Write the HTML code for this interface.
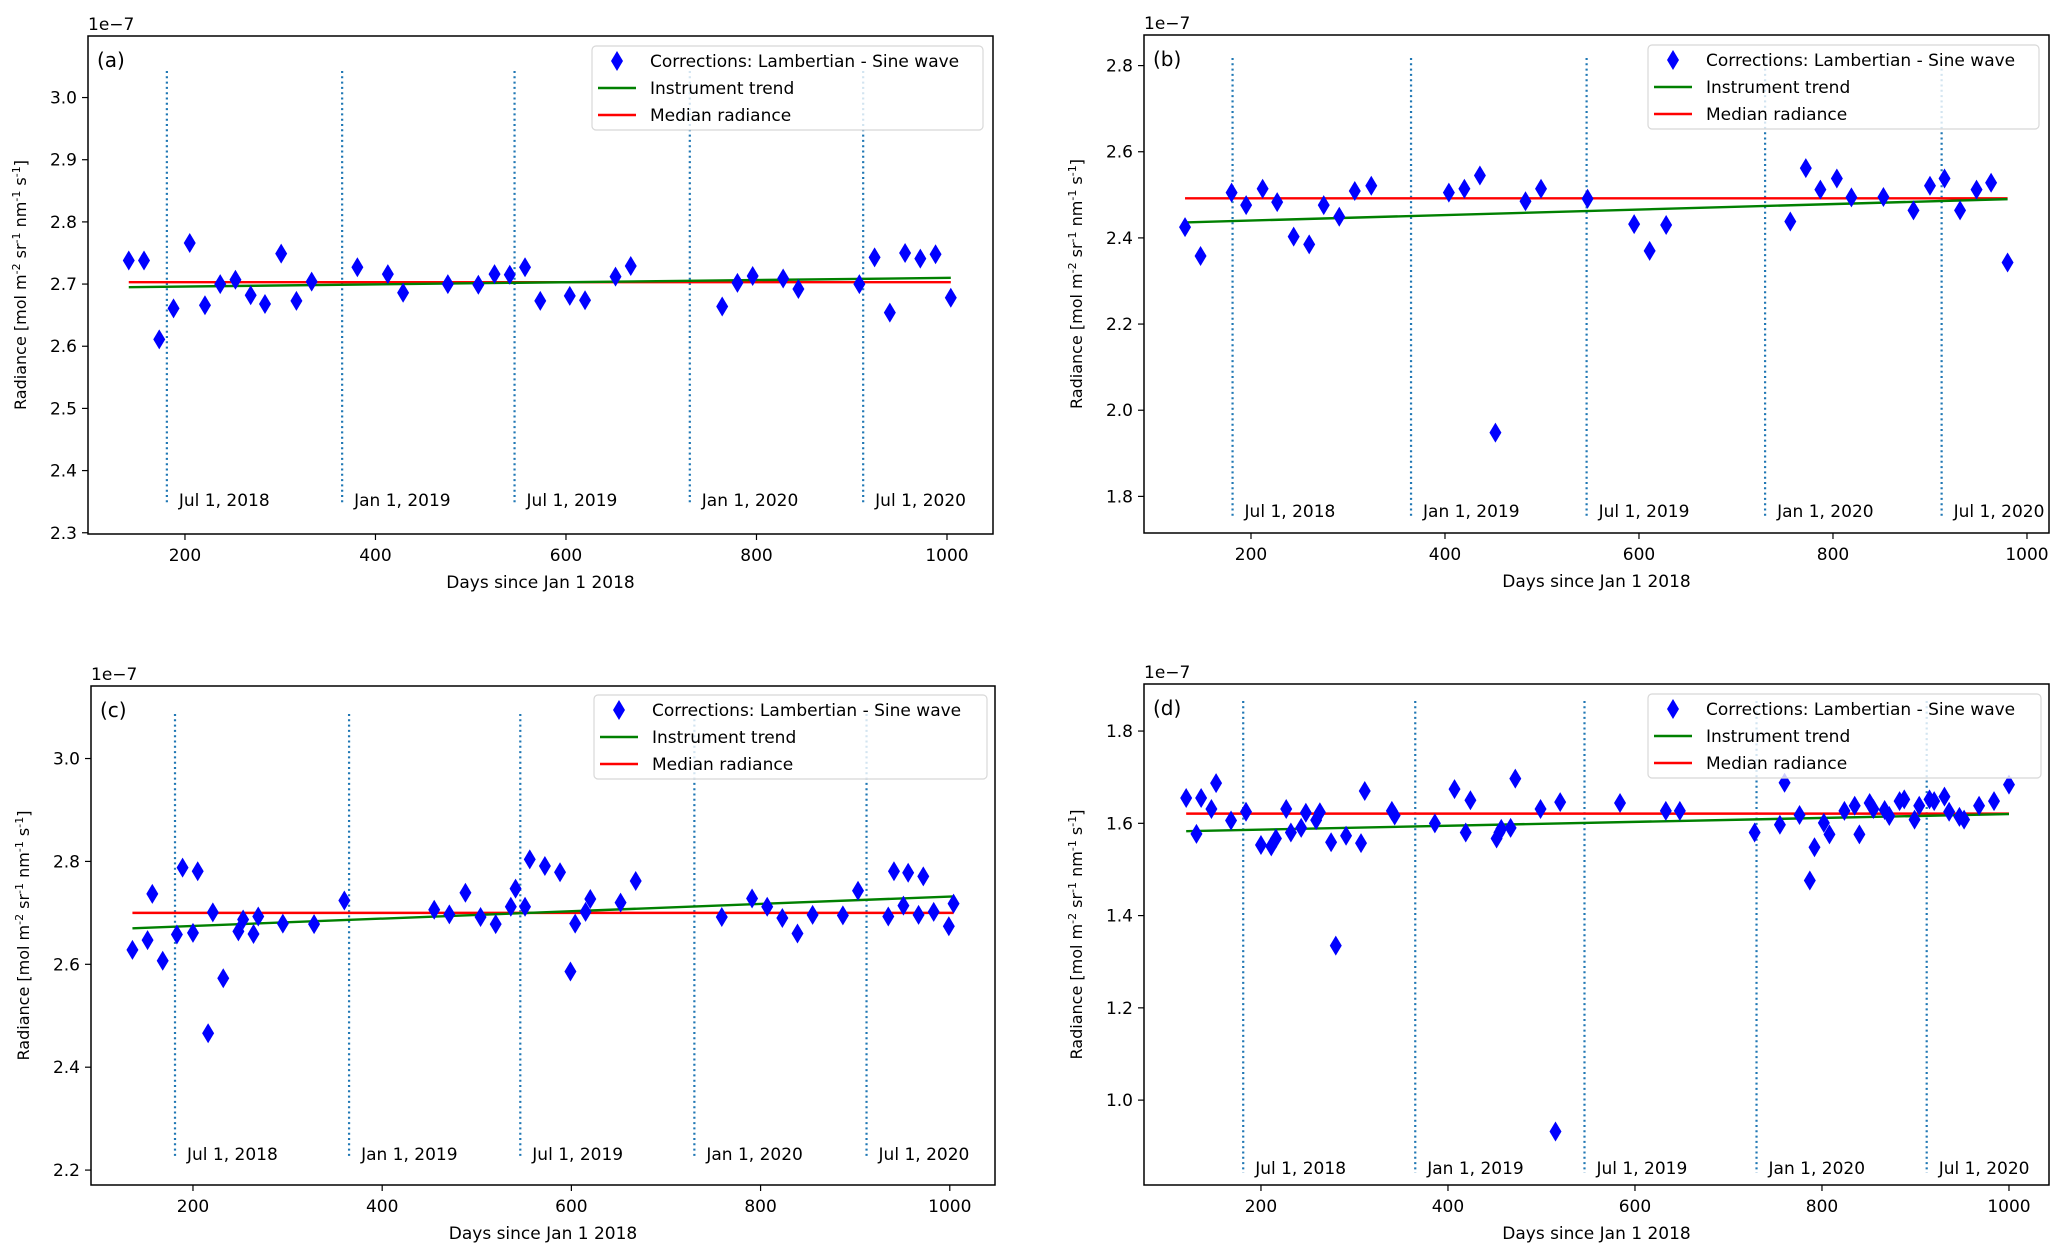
<!DOCTYPE html>
<html><head><meta charset="utf-8"><style>
body{margin:0;background:#fff;}
svg{display:block;font-family:"DejaVu Sans","Liberation Sans",sans-serif;}
</style></head><body>
<svg id="fig" width="2067" height="1257" viewBox="0 0 2067 1257" xmlns="http://www.w3.org/2000/svg"></svg>
<script>
// ---- data (days since Jan 1 2018, radiance x1e-7) ----
const daysA=[141,157,173,188,205,221,237,253,269,284,301,317,333,381,413,429,476,508,525,541,557,573,604,620,652,668,764,780,796,828,844,908,924,940,956,972,988,1004];
const valsA=[2.738,2.738,2.611,2.661,2.766,2.666,2.700,2.707,2.682,2.668,2.749,2.673,2.704,2.727,2.716,2.686,2.700,2.699,2.716,2.715,2.727,2.673,2.681,2.674,2.712,2.729,2.664,2.702,2.713,2.709,2.692,2.700,2.743,2.654,2.750,2.741,2.748,2.678];
const trendA=[[141,2.695],[1004,2.710]];
const medianA=2.703;

const daysB=[132,148,180,195,212,227,244,260,275,291,307,324,404,420,436,452,483,499,547,595,611,628,756,772,787,804,819,852,883,900,915,931,948,963,980];
const valsB=[2.425,2.358,2.505,2.476,2.514,2.483,2.403,2.385,2.476,2.449,2.509,2.521,2.505,2.514,2.545,1.948,2.485,2.514,2.491,2.432,2.370,2.430,2.438,2.562,2.512,2.538,2.494,2.495,2.464,2.521,2.538,2.464,2.512,2.528,2.343];
const trendB=[[132,2.436],[980,2.490]];
const medianB=2.492;

const daysC=[136,152,157,168,183,189,200,205,221,216,232,248,253,264,269,295,328,360,455,471,488,504,520,536,541,551,556,572,588,599,604,615,620,652,668,759,791,807,823,839,855,887,903,935,941,951,956,967,972,983,999,1004];
const valsC=[2.628,2.647,2.737,2.607,2.658,2.788,2.661,2.781,2.701,2.466,2.573,2.664,2.687,2.659,2.693,2.679,2.678,2.724,2.706,2.697,2.739,2.692,2.678,2.712,2.747,2.712,2.804,2.791,2.779,2.586,2.679,2.702,2.727,2.720,2.762,2.692,2.728,2.712,2.690,2.660,2.696,2.695,2.743,2.693,2.781,2.714,2.778,2.696,2.771,2.702,2.674,2.718];
const trendC=[[136,2.670],[1004,2.732]];
const medianC=2.700;

const daysD=[120,131,136,147,152,168,184,200,211,216,227,232,243,248,259,263,275,280,291,307,311,340,343,386,407,419,424,452,455,457,467,472,499,520,515,584,633,648,728,755,760,776,787,792,802,808,824,835,840,851,855,867,872,883,888,899,904,915,920,931,936,947,952,968,984,1000];
const valsD=[1.655,1.577,1.655,1.631,1.687,1.606,1.625,1.553,1.550,1.567,1.631,1.580,1.590,1.623,1.607,1.624,1.559,1.335,1.573,1.557,1.670,1.627,1.617,1.600,1.674,1.580,1.650,1.567,1.580,1.588,1.590,1.697,1.631,1.646,0.932,1.644,1.627,1.627,1.580,1.597,1.688,1.618,1.476,1.548,1.601,1.576,1.627,1.638,1.576,1.644,1.631,1.629,1.616,1.648,1.652,1.608,1.638,1.652,1.648,1.658,1.625,1.614,1.608,1.638,1.648,1.684];
const trendD=[[120,1.583],[1000,1.620]];
const medianD=1.621;

const xTicks=[200,400,600,800,1000];
const yTicksA=[2.3,2.4,2.5,2.6,2.7,2.8,2.9,3.0];
const yTicksB=[1.8,2.0,2.2,2.4,2.6,2.8];
const yTicksC=[2.2,2.4,2.6,2.8,3.0];
const yTicksD=[1.0,1.2,1.4,1.6,1.8];
const eventDays=[181,365,546,730,912];
const eventLabels=["Jul 1, 2018","Jan 1, 2019","Jul 1, 2019","Jan 1, 2020","Jul 1, 2020"];

const NS="http://www.w3.org/2000/svg";
const svg=document.getElementById('fig');
function mk(tag,attrs,parent){const e=document.createElementNS(NS,tag);for(const k in attrs)e.setAttribute(k,attrs[k]);(parent||svg).appendChild(e);return e;}

const panels=[
 {id:'a',L:88,R:993,T:36,B:534,x0:98.2,x1:1048.3,y0:2.298,y1:3.099,days:daysA,vals:valsA,trend:trendA,median:medianA,yt:yTicksA,vTop:35,vBot:29,lg:[592,46,983,130]},
 {id:'b',L:1144,R:2049,T:35,B:533,x0:89.7,x1:1022.7,y0:1.715,y1:2.871,days:daysB,vals:valsB,trend:trendB,median:medianB,yt:yTicksB,vTop:23,vBot:17,lg:[1648,45,2039,129]},
 {id:'c',L:91,R:995,T:686,B:1185,x0:92.2,x1:1047.8,y0:2.171,y1:3.141,days:daysC,vals:valsC,trend:trendC,median:medianC,yt:yTicksC,vTop:28,vBot:26,lg:[594,695,987,779]},
 {id:'d',L:1144,R:2049,T:684,B:1185,x0:74.9,x1:1042.8,y0:0.816,y1:1.902,days:daysD,vals:valsD,trend:trendD,median:medianD,yt:yTicksD,vTop:17,vBot:12,lg:[1648,694,2041,778]}
];

panels.forEach(p=>{
  const g=mk('g',{});
  
  
  const X=d=>p.L+(d-p.x0)/(p.x1-p.x0)*(p.R-p.L);
  const Y=v=>p.B-(v-p.y0)/(p.y1-p.y0)*(p.B-p.T);
  eventDays.forEach((d,i)=>{
    const l=mk('line',{x1:X(d),x2:X(d),y1:p.T+p.vTop,y2:p.B-p.vBot,stroke:'#1f77b4','stroke-width':2.2,'stroke-dasharray':'2,3.3'},g);
    
    
    const t=mk('text',{x:X(d)+12,y:p.B-p.vBot+1,'font-size':17,fill:'#000'},g);
    t.textContent=eventLabels[i];
    
    
  });
  const m=mk('line',{x1:X(p.trend[0][0]),x2:X(p.trend[1][0]),y1:Y(p.median),y2:Y(p.median),stroke:'#ff0000','stroke-width':2.4},g);
  
  
  const tr=mk('line',{x1:X(p.trend[0][0]),x2:X(p.trend[1][0]),y1:Y(p.trend[0][1]),y2:Y(p.trend[1][1]),stroke:'#008000','stroke-width':2.4},g);
  
  
  p.days.forEach((d,i)=>{
    const cx=X(d),cy=Y(p.vals[i]);
    const pt=mk('polygon',{points:`${cx},${cy-10} ${cx+6},${cy} ${cx},${cy+10} ${cx-6},${cy}`,fill:'#0000ff'},g);
    
    
  });
  const fr=mk('rect',{x:p.L,y:p.T,width:p.R-p.L,height:p.B-p.T,fill:'none',stroke:'#000','stroke-width':1.5},g);
  
  
  xTicks.forEach(t=>{
    mk('line',{x1:X(t),x2:X(t),y1:p.B,y2:p.B+6,stroke:'#000','stroke-width':1.2},g);
    const tx=mk('text',{x:X(t),y:p.B+27,'font-size':17,'text-anchor':'middle'},g);
    tx.textContent=t;
    
    
  });
  p.yt.forEach(t=>{
    mk('line',{x1:p.L-6,x2:p.L,y1:Y(t),y2:Y(t),stroke:'#000','stroke-width':1.2},g);
    const ty=mk('text',{x:p.L-11,y:Y(t)+6,'font-size':17,'text-anchor':'end'},g);
    ty.textContent=t.toFixed(1);
    
    
  });
  const ex=mk('text',{x:p.L,y:p.T-6,'font-size':17},g);
  ex.textContent='1e\u22127';
  
  
  const pl=mk('text',{x:p.L+9,y:p.T+31,'font-size':20},g);
  pl.textContent='('+p.id+')';
  
  
  const xl=mk('text',{x:(p.L+p.R)/2,y:p.B+54,'font-size':17,'text-anchor':'middle'},g);
  xl.textContent='Days since Jan 1 2018';
  
  
  const yc=(p.T+p.B)/2, yx=p.L-62;
  const yl=mk('text',{x:yx,y:yc,'font-size':16,'text-anchor':'middle',transform:`rotate(-90 ${yx} ${yc})`},g);
  yl.innerHTML='Radiance [mol m<tspan dy="-6" font-size="11">-2</tspan><tspan dy="6"> sr</tspan><tspan dy="-6" font-size="11">-1</tspan><tspan dy="6"> nm</tspan><tspan dy="-6" font-size="11">-1</tspan><tspan dy="6"> s</tspan><tspan dy="-6" font-size="11">-1</tspan><tspan dy="6">]</tspan>';
  
  
  const [lx0,ly0,lx1,ly1]=p.lg;
  const lgG=mk('g',{},g);
  
  
  mk('rect',{x:lx0,y:ly0,width:lx1-lx0,height:ly1-ly0,rx:4,fill:'#fff','fill-opacity':0.8,stroke:'#d8d8d8','stroke-width':1.2},lgG);
  const rows=[ly0+15,ly0+42,ly0+69];
  const lcx=lx0+25;
  mk('polygon',{points:`${lcx},${rows[0]-10} ${lcx+6},${rows[0]} ${lcx},${rows[0]+10} ${lcx-6},${rows[0]}`,fill:'#0000ff'},lgG);
  mk('line',{x1:lx0+6,x2:lx0+44,y1:rows[1],y2:rows[1],stroke:'#008000','stroke-width':2.4},lgG);
  mk('line',{x1:lx0+6,x2:lx0+44,y1:rows[2],y2:rows[2],stroke:'#ff0000','stroke-width':2.4},lgG);
  ['Corrections: Lambertian - Sine wave','Instrument trend','Median radiance'].forEach((s,i)=>{
    const t=mk('text',{x:lx0+58,y:rows[i]+6,'font-size':17},lgG);
    t.textContent=s;
    
    
  });
  svg.appendChild(g);
});
</script>
</body></html>
